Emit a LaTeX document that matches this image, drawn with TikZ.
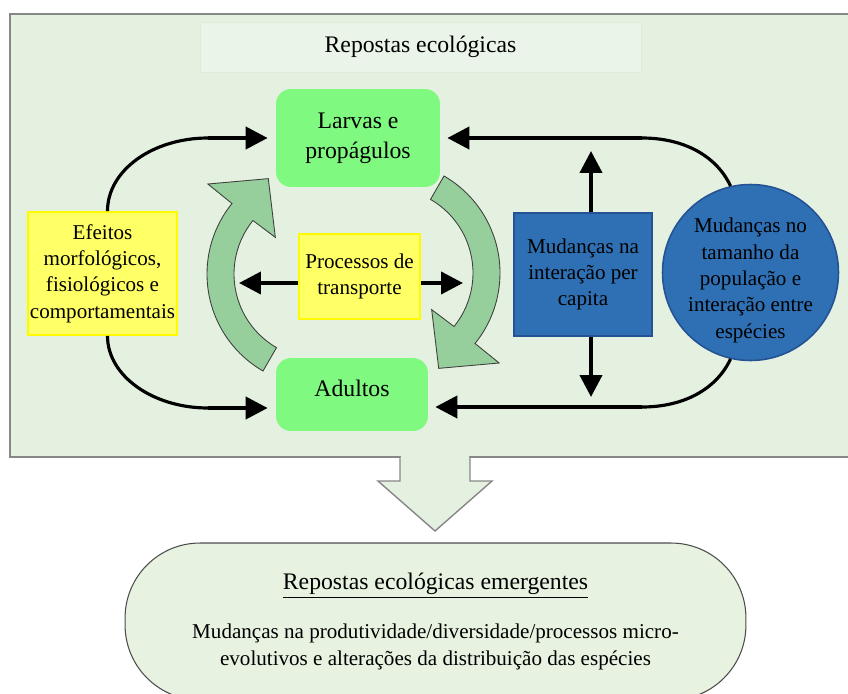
\documentclass[tikz,border=0pt]{standalone}
\usepackage{fontspec}
\setmainfont{Liberation Serif}
\usepackage{tikz}
\usetikzlibrary{arrows.meta,positioning,shadows}

\definecolor{panelbg}{RGB}{229,241,224}
\definecolor{panelline}{RGB}{135,135,135}
\definecolor{titlebg}{RGB}{235,244,232}
\definecolor{titleline}{RGB}{224,234,220}
\definecolor{stagegreen}{RGB}{128,249,128}
\definecolor{boxyellow}{RGB}{255,255,102}
\definecolor{lineyellow}{RGB}{255,250,0}
\definecolor{boxblue}{RGB}{46,112,179}
\definecolor{lineblue}{RGB}{36,82,148}
\definecolor{cyclegreen}{RGB}{150,207,156}
\definecolor{emergbg}{RGB}{231,242,225}

\tikzset{node distance=2.0cm,
  every node/.style={font=\fontsize{12}{15}\selectfont, align=center, inner sep=1pt},
  stage/.style={rectangle, rounded corners=0.3cm, fill=stagegreen, font=\fontsize{13.5}{17}\selectfont},
  yellowbox/.style={rectangle, draw=lineyellow, line width=1.1pt, fill=boxyellow},
  bluebox/.style={rectangle, draw=lineblue, line width=0.9pt, fill=boxblue},
  thickarrow/.style={line width=2.3pt, -{Triangle[length=0.44cm,width=0.44cm]}},
  thinloop/.style={line width=1.8pt},
  turnarrow/.pic={
    \filldraw[fill=cyclegreen, draw=black!75, line width=0.5pt]
      (120:112) arc[start angle=120, end angle=219, radius=112]
      -- (219:143) -- (242:108) -- (220:57) -- (219:85)
      arc[start angle=219, end angle=120, radius=85] -- cycle;
  }
}

\begin{document}
\begin{tikzpicture}[x=0.02cm, y=-0.02cm]
\useasboundingbox (0,0) rectangle (848,693);
\clip (0,0) rectangle (848,693);

\draw[fill=panelbg, draw=panelline, line width=0.8pt] (10,14) rectangle (860,457);
\node[rectangle, fill=titlebg, draw=titleline, minimum width=8.82cm, minimum height=1cm,
  font=\fontsize{13.5}{17}\selectfont] (title) at (420.5,47) {Repostas ecológicas};

\node[stage, minimum width=3.28cm, minimum height=1.96cm] (larvas) at (358,138) {Larvas e\\propágulos};
\node[stage, minimum width=3.04cm, minimum height=1.46cm, text depth=7.5pt] (adultos) at (352,394.5) {Adultos};
\node[yellowbox, minimum width=2.98cm, minimum height=2.46cm] (efeitos) at (102.5,273.5)
  {Efeitos\\morfológicos,\\fisiológicos e\\comportamentais};

\pic at (319,274) {turnarrow};
\pic[rotate=180] at (388,273) {turnarrow};

\node[yellowbox, minimum width=2.42cm, minimum height=1.7cm] (transp) at (359.5,276.5) {Processos de\\transporte};
\node[bluebox, minimum width=2.76cm, minimum height=2.46cm,
  drop shadow={shadow xshift=0.7pt, shadow yshift=0pt, fill=black!70, opacity=1}] (percap) at (583,274.5)
  {Mudanças na\\interação per\\capita};
\node[circle, draw=lineblue, line width=0.9pt, fill=boxblue, minimum size=3.52cm] (pop) at (750.5,272.5) {};
\node (poptxt) at ([yshift=-0.16cm]pop.center) {Mudanças no\\tamanho da\\população e\\interação entre\\espécies};

\coordinate (tl) at (208,138);
\coordinate (bl) at (208,408);
\coordinate (tr) at (642,138);
\coordinate (br) at (642,407);
\coordinate (up) at (591,151);
\coordinate (down) at (591,397);
\coordinate (lft) at (239,283);
\coordinate (rgt) at (463,283);

% laços externos
\draw[thinloop] ([xshift=0.1cm]efeitos.north) .. controls +(0,-41) and +(-55,0) .. (tl);
\draw[thickarrow, shorten >=0.16cm] (tl) -- (larvas.west |- tl);
\draw[thinloop] ([xshift=0.1cm]efeitos.south) .. controls +(0,40) and +(-55,0) .. (bl);
\draw[thickarrow, shorten >=0.16cm] (bl) -- (bl -| adultos.west);
\draw[thinloop] (pop.103) .. controls +(-14,-30) and +(42,0) .. (tr);
\draw[thickarrow, shorten >=0.14cm] (tr) -- (tr -| larvas.east);
\draw[thinloop] (pop.257) .. controls +(-14,30) and +(42,0) .. (br);
\draw[thickarrow, shorten >=0.14cm] (br) -- (br -| adultos.east);

\draw[thickarrow] (percap.north -| up) -- (up);
\draw[thickarrow] (percap.south -| down) -- (down);
\draw[thickarrow] (transp.west |- lft) -- (lft);
\draw[thickarrow] (transp.east |- rgt) -- (rgt);

% seta para baixo
\fill[panelbg] (401,454) rectangle (469,459);
\filldraw[fill=panelbg, draw=panelline, line width=0.8pt]
  (400,457) -- (400,481) -- (378,481) -- (435,531) -- (492,481) -- (470,481) -- (470,457);

\node[rectangle, rounded corners=1.5cm, fill=emergbg, draw=black!70, line width=0.6pt,
  minimum width=12.42cm, minimum height=3.14cm] (emerg) at (435.5,621.5)
  {{\fontsize{13.5}{17}\selectfont\underline{Repostas ecológicas emergentes}}\\[0.45cm]
   Mudanças na produtividade/diversidade/processos micro-\\evolutivos e alterações da distribuição das espécies};
\end{tikzpicture}
\end{document}
